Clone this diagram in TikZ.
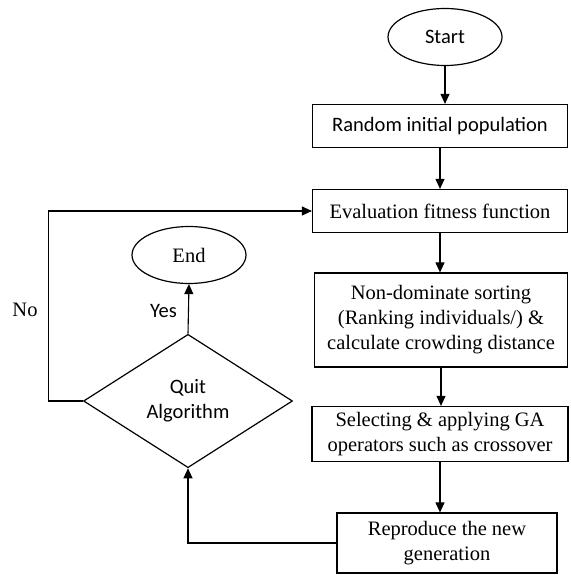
\documentclass[tikz,border=0pt]{standalone}
\usepackage{fontspec}
\setmainfont{Liberation Serif}
\newfontfamily\calfont{Carlito}
\usetikzlibrary{positioning,arrows.meta,shapes.geometric}
\tikzset{
  box/.style    = {draw, line width=1.2pt, align=center, inner sep=2pt,
                   font=\fontsize{20.5}{25}\selectfont},
  term/.style   = {box, ellipse, minimum width=114pt, minimum height=57pt},
  cond/.style   = {box, diamond, minimum width=209pt, minimum height=114pt,
                   font=\calfont\fontsize{20.5}{25}\selectfont},
  arr/.style    = {-{Triangle[length=10pt,width=9pt]}, line width=1.1pt},
  lab/.style    = {font=\fontsize{20.5}{24}\selectfont, inner sep=1pt},
}
\begin{document}
\begin{tikzpicture}[x=1pt,y=-1pt]
  \useasboundingbox (0,0) rectangle (570,575);

  % --- main column ---
  \node[term, font=\calfont\fontsize{20.5}{24}\selectfont] (start) at (445,37) {Start};
  \node[box, minimum width=255pt, minimum height=43pt,
        font=\calfont\fontsize{20.5}{24}\selectfont] (init) at (440,126) {Random initial population};
  \node[box, minimum width=255pt, minimum height=43pt] (eval) at (440,211) {Evaluation fitness function};
  \node[box, minimum width=253pt, minimum height=94pt] (sort) at (441,320)
        {Non-dominate sorting\\(Ranking individuals/) \&\\calculate crowding distance};
  \node[box, minimum width=256pt, minimum height=55pt] (select) at (440,434)
        {Selecting \& applying GA\\operators such as crossover};
  \node[box, minimum width=220pt, minimum height=60pt] (repro) at (447,543)
        {Reproduce the new\\generation};

  % --- decision branch ---
  \node[cond] (quit) at (188,401) {Quit\\Algorithm};
  \node[term] (stop) at (189,255) {End};

  \draw[arr] (start) -- (start |- init.north);
  \draw[arr] (init) -- (init |- eval.north);
  \draw[arr] (eval) -- (eval |- sort.north);
  \draw[arr] (sort) -- (sort |- select.north);
  \draw[arr] (select) -- (select |- repro.north);

  \draw[arr] (repro.west) -| (quit.south);
  \draw[arr] (quit.north) -- node[lab, pos=0.45, left=10pt, font=\calfont\fontsize{20.5}{24}\selectfont]{Yes} (stop.south);
  \draw[arr] (quit.west) -- ++(-34,0) |- (eval.west);
  \node[lab] (no) at (25,310) {No};
\end{tikzpicture}
\end{document}
